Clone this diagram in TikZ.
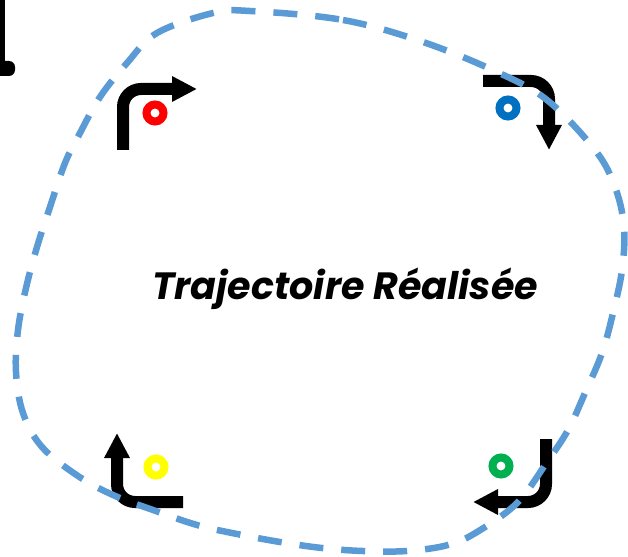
\documentclass[tikz,border=0pt]{standalone}
\usepackage{fontspec}
\newfontfamily\trajfont{Poppins}
\usetikzlibrary{arrows.meta}
\definecolor{trajblue}{HTML}{5B9BD5}
\definecolor{ringred}{HTML}{FF0000}
\definecolor{ringblue}{HTML}{0070C0}
\definecolor{ringgreen}{HTML}{00B050}
\definecolor{ringyellow}{HTML}{FFFF00}
\begin{document}
\begin{tikzpicture}[
        x=1pt, y=-1pt,
        turn/.style={line width=12pt,rounded corners=18pt,
            -{Triangle[width=24pt,length=25pt]}},
        ring/.style={draw=#1,circle,line width=8pt,minimum size=17pt,inner sep=0pt},
        traj/.style={draw=trajblue,line width=6.5pt,dash pattern=on 24pt off 18pt},
        ]
    \useasboundingbox (0,0) rectangle (628,556);
    % cut-off piece in the corner
    \fill (0,0) rectangle (5,64);
    \fill[rounded corners=6pt] (-8,61) rectangle (15,76);
    % rings
    \node (red) [ring=ringred] at (155,113) {};
    \node (blue) [ring=ringblue] at (508,108) {};
    \node (green) [ring=ringgreen] at (501,466) {};
    \node (yellow) [ring=ringyellow] at (156,467) {};
    % turn arrows
    \coordinate (r0) at (123,150);
    \coordinate (r1) at (197,89);
    \coordinate (b0) at (483,81);
    \coordinate (b1) at (549,150);
    \coordinate (g0) at (546,439);
    \coordinate (g1) at (473,502);
    \coordinate (y0) at (183,502);
    \coordinate (y1) at (117,433);
    \draw[turn] (r0) |- (r1);
    \draw[turn] (b0) -| (b1);
    \draw[turn] (g0) |- (g1);
    \draw[turn] (y0) -| (y1);
    \node (title) [anchor=base] at (345,299)
        {\trajfont\fontsize{38}{42}\selectfont\bfseries\itshape Trajectoire Réalisée};
    % realised path
    \draw[traj] plot[smooth cycle, tension=0.6] coordinates {
        (250,11) (343,20) (423,42) (497,72) (547,100) (595,150)
        (615,187) (624,227) (622,270) (613,313) (602,353) (585,393)
        (568,430) (547,462) (517,503) (477,532) (448,545) (407,551)
        (363,551) (322,548) (280,542) (237,534) (197,525) (153,510)
        (113,495) (78,476) (42,447) (23,413) (16,372) (18,330)
        (26,288) (37,247) (50,207) (65,163) (80,133) (100,97)
        (127,63) (157,33) (213,13)
    }; % end of traj
\end{tikzpicture}
\end{document}
